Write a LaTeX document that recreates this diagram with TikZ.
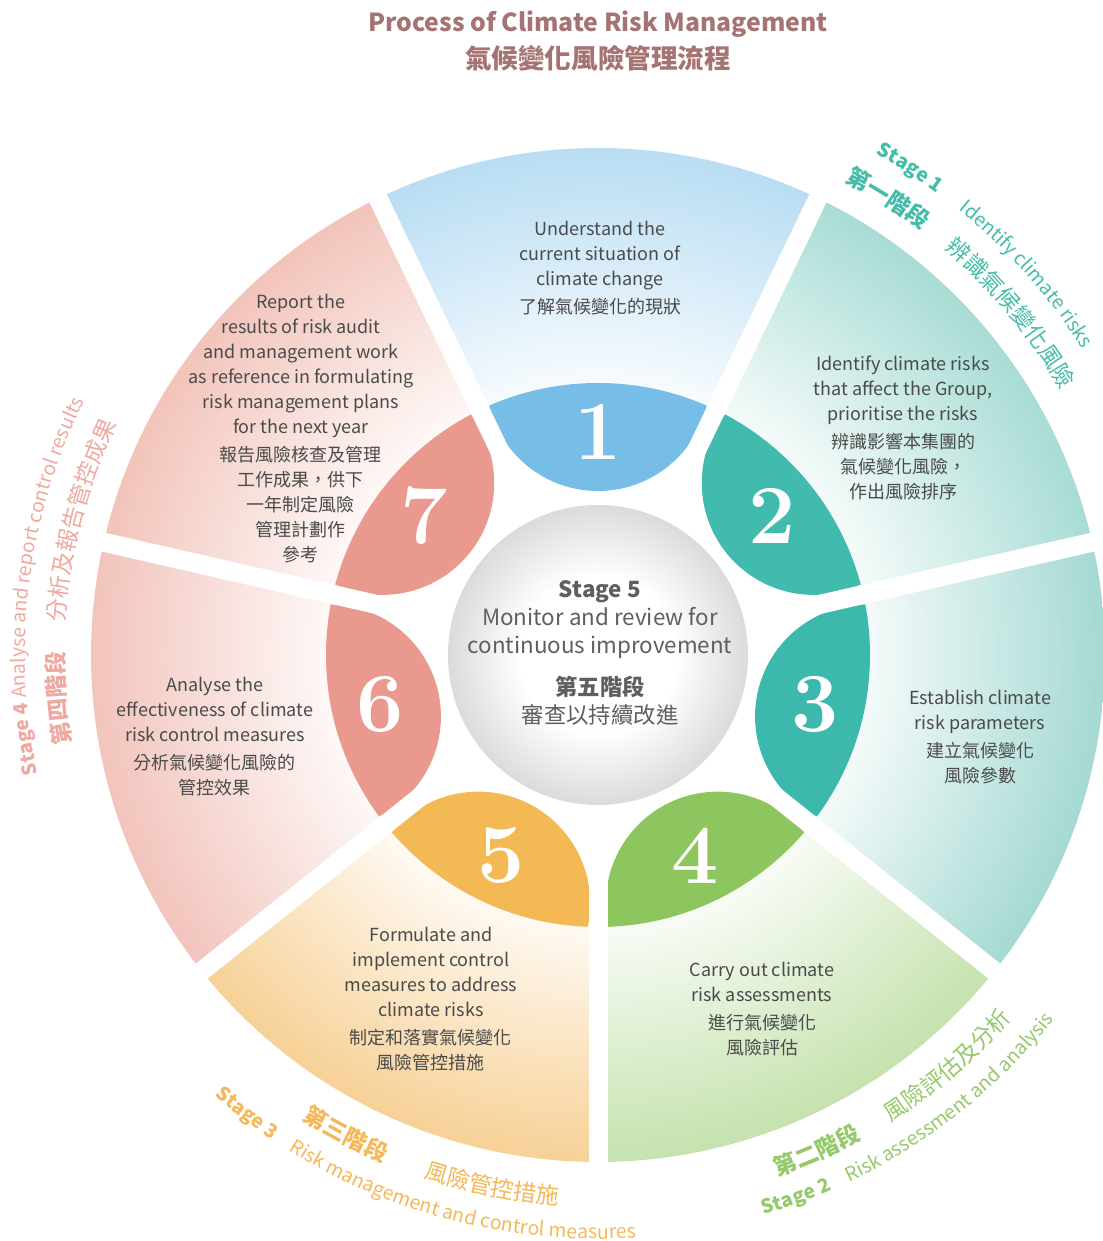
\documentclass[tikz,border=0pt]{standalone}
\usepackage{fontspec}
\newfontfamily\cjk{Noto Sans CJK TC}
\usetikzlibrary{decorations.text}

\definecolor{seg1}{HTML}{B9DDF3}
\definecolor{seg2}{HTML}{A8DCD5}
\definecolor{seg3}{HTML}{A5D9D3}
\definecolor{seg4}{HTML}{C5E2AE}
\definecolor{seg5}{HTML}{F7D196}
\definecolor{seg6}{HTML}{F2C4BC}
\definecolor{seg7}{HTML}{F2C4BA}
\definecolor{pet1}{HTML}{76BEE8}
\definecolor{pet2}{HTML}{40BBAE}
\definecolor{pet3}{HTML}{3DB8AC}
\definecolor{pet4}{HTML}{8DC65E}
\definecolor{pet5}{HTML}{F3B955}
\definecolor{pet6}{HTML}{E9998E}
\definecolor{pet7}{HTML}{E9998E}
\definecolor{titlec}{HTML}{A67373}
\definecolor{bodyc}{HTML}{4A4A4A}
\definecolor{midc}{HTML}{5F5F5F}
\definecolor{discc}{HTML}{DADBDD}
\definecolor{st1}{HTML}{45BCA9}
\definecolor{st2}{HTML}{95C96B}
\definecolor{st3}{HTML}{F4B85A}
\definecolor{st4}{HTML}{EFA9A0}

\newcommand\segshade[1]{\colorlet{#1l}{#1!12!white}%
  \pgfdeclareradialshading{sh#1}{\pgfpointorigin}{color(0bp)=(white); color(13.4bp)=(#1l); color(25bp)=(#1); color(50bp)=(#1)}}
\segshade{seg1}\segshade{seg2}\segshade{seg3}\segshade{seg4}
\segshade{seg5}\segshade{seg6}\segshade{seg7}
\pgfdeclareradialshading{shdisc}{\pgfpointorigin}{color(0bp)=(white); color(13bp)=(white); color(25bp)=(discc); color(50bp)=(discc)}

\newcommand\stEn{\cjk\fontsize{9.7}{12}\selectfont}
\newcommand\stCn{\cjk\fontsize{11.5}{13}\selectfont}
\newcommand\stagearc[5]{\path[decorate,decoration={text along path,text color=#1,text={#5}}]
  (#3:#2) arc[start angle=#3,end angle=#4,radius=#2];}

\tikzset{
  segtext/.style={text=bodyc,align=center,font=\cjk\fontsize{9}{12.5}\selectfont},
  petnum/.style={text=white,font=\rmfamily\bfseries\fontsize{42}{42}\selectfont},
  gap/.style={white,line width=9.5pt},
}

\begin{document}
\begin{tikzpicture}[x=0.5pt,y=0.5pt]
\useasboundingbox (-598,-586) rectangle (504,655);

\foreach \i [evaluate=\i as \a using 90-(\i-1)*51.4286] in {1,...,7}{
  \begin{scope}
    \clip (\a-25.72:272) -- (\a-25.72:507) arc[start angle=\a-25.72,end angle=\a+25.72,radius=507]
      -- (\a+25.72:272) arc[start angle=\a+25.72,end angle=\a-25.72,radius=272] -- cycle;
    \shade[shading=shseg\i] (0,0) circle[radius=507];
  \end{scope}
  \begin{scope}
    \clip (0,0) circle[radius=272];
    \fill[pet\i] (\a:276) circle[radius=112];
  \end{scope}
}
\foreach \k in {0,...,6}
  \draw[gap] (0,0) -- (64.2857+\k*51.4286:530);

\shade[shading=shdisc] (0,0) circle[radius=150];

\foreach \i in {1,...,7}
  \node[petnum] (num\i) at ({90-(\i-1)*51.4286}:223) {\i};

\node[font=\cjk\bfseries\fontsize{12.4}{16}\selectfont,text=titlec] (title) at (0,631) {Process of Climate Risk Management};
\node[font=\cjk\bfseries\fontsize{13.3}{16}\selectfont,text=titlec] (titlecn) at (0,597) {氣候變化風險管理流程};

\node[align=center,text=midc,font=\cjk\fontsize{11.2}{14}\selectfont] (centre) at (2,2)
  {{\bfseries Stage 5}\\Monitor and review for\\continuous improvement\\[7pt]{\bfseries 第五階段}\\審查以持續改進};

\node[segtext] (txt1) at (2,387) {Understand the\\current situation of\\climate change\\[1.5pt]了解氣候變化的現狀};
\node[segtext] (txt2) at (305,227) {Identify climate risks\\that affect the Group,\\prioritise the risks\\[1.5pt]辨識影響本集團的\\氣候變化風險，\\作出風險排序};
\node[segtext] (txt3) at (382,-82) {Establish climate\\risk parameters\\[1.5pt]建立氣候變化\\風險參數};
\node[segtext] (txt4) at (164,-354) {Carry out climate\\risk assessments\\[1.5pt]進行氣候變化\\風險評估};
\node[segtext] (txt5) at (-167,-344) {Formulate and\\implement control\\measures to address\\climate risks\\[1.5pt]制定和落實氣候變化\\風險管控措施};
\node[segtext] (txt6) at (-383,-82) {Analyse the\\effectiveness of climate\\risk control measures\\[1.5pt]分析氣候變化風險的\\管控效果};
\node[segtext] (txt7) at (-297,226) {Report the\\results of risk audit\\and management work\\as reference in formulating\\risk management plans\\for the next year\\[1.5pt]報告風險核查及管理\\工作成果，供下\\一年制定風險\\管理計劃作\\參考};

\stagearc{st1}{573}{61}{0}{|\stEn\bfseries|Stage 1}
\stagearc{st1}{573}{51}{0}{|\stEn|Identify climate risks}
\stagearc{st1}{534}{62.5}{0}{|\stCn\bfseries|第一階段}
\stagearc{st1}{534}{49.5}{0}{|\stCn|辨識氣候變化風險}

\stagearc{st2}{584}{-73.5}{0}{|\stEn\bfseries|Stage 2}
\stagearc{st2}{584}{-64.5}{0}{|\stEn|Risk assessment and analysis}
\stagearc{st2}{551}{-71}{0}{|\stCn\bfseries|第二階段}
\stagearc{st2}{551}{-58}{0}{|\stCn|風險評估及分析}

\stagearc{st3}{584}{-131}{-60}{|\stEn\bfseries|Stage 3}
\stagearc{st3}{584}{-122}{-60}{|\stEn|Risk management and control measures}
\stagearc{st3}{551}{-122.5}{-60}{|\stCn\bfseries|第三階段}
\stagearc{st3}{551}{-108.5}{-60}{|\stCn|風險管控措施}

\stagearc{st4}{573}{192}{130}{|\stEn\bfseries|Stage 4 |\stEn|Analyse and report control results}
\stagearc{st4}{534}{189.5}{130}{|\stCn\bfseries|第四階段}
\stagearc{st4}{534}{176.5}{130}{|\stCn|分析及報告管控成果}
\end{tikzpicture}
\end{document}
